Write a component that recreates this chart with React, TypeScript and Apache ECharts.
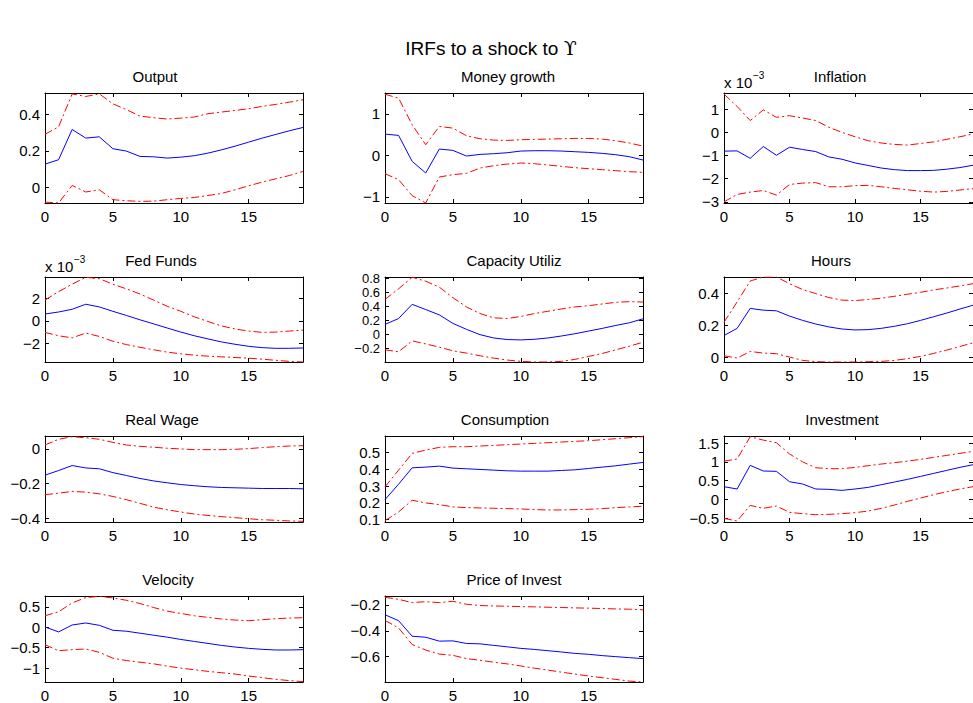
import React, { useEffect, useRef } from "react";
import * as echarts from "echarts";

// Horizon (periods after the shock) and tick positions shared by every panel
const PERIODS = [0, 1, 2, 3, 4, 5, 6, 7, 8, 9, 10, 11, 12, 13, 14, 15, 16, 17, 18, 19];
const X_TICKS = [0, 5, 10, 15];

// Output
const outputMid = [0.127, 0.151, 0.316, 0.269, 0.276, 0.211, 0.198, 0.169, 0.167, 0.16, 0.165, 0.173, 0.187, 0.205, 0.225, 0.247, 0.269, 0.289, 0.309, 0.327];
const outputUpper = [0.29, 0.33, 0.51, 0.496, 0.51, 0.456, 0.424, 0.389, 0.38, 0.373, 0.378, 0.384, 0.402, 0.411, 0.42, 0.429, 0.442, 0.453, 0.465, 0.478];
const outputLower = [-0.08, -0.085, 0.011, -0.025, -0.013, -0.067, -0.073, -0.076, -0.075, -0.067, -0.06, -0.055, -0.044, -0.033, -0.013, 0.009, 0.029, 0.047, 0.065, 0.087];

// Money growth
const moneyMid = [0.512, 0.48, -0.144, -0.424, 0.152, 0.12, -0.016, 0.024, 0.04, 0.064, 0.104, 0.112, 0.112, 0.104, 0.088, 0.072, 0.048, 0.016, -0.032, -0.112];
const moneyUpper = [1.47, 1.376, 0.736, 0.256, 0.696, 0.656, 0.472, 0.4, 0.368, 0.36, 0.376, 0.384, 0.392, 0.4, 0.408, 0.408, 0.392, 0.352, 0.296, 0.224];
const moneyLower = [-0.44, -0.584, -0.968, -1.144, -0.52, -0.464, -0.432, -0.304, -0.248, -0.208, -0.184, -0.2, -0.232, -0.264, -0.296, -0.32, -0.344, -0.368, -0.392, -0.408];

// Inflation (units of 10^-3)
const inflationMid = [-0.81, -0.8, -1.12, -0.61, -0.99, -0.64, -0.74, -0.83, -1.06, -1.16, -1.32, -1.43, -1.54, -1.61, -1.65, -1.65, -1.64, -1.59, -1.52, -1.42];
const inflationUpper = [1.65, 1.12, 0.51, 0.97, 0.65, 0.72, 0.62, 0.51, 0.22, 0.0, -0.19, -0.36, -0.46, -0.52, -0.55, -0.48, -0.41, -0.3, -0.19, -0.07];
const inflationLower = [-3.0, -2.68, -2.58, -2.51, -2.71, -2.25, -2.19, -2.17, -2.35, -2.35, -2.3, -2.29, -2.35, -2.42, -2.48, -2.54, -2.58, -2.55, -2.49, -2.43];

// Fed Funds (units of 10^-3)
const fedMid = [0.61, 0.79, 1.03, 1.48, 1.24, 0.85, 0.48, 0.09, -0.27, -0.64, -1.0, -1.33, -1.61, -1.88, -2.09, -2.27, -2.39, -2.45, -2.45, -2.42];
const fedUpper = [1.85, 2.6, 3.27, 3.88, 3.76, 3.27, 2.85, 2.39, 1.85, 1.3, 0.85, 0.36, -0.06, -0.45, -0.73, -0.91, -1.03, -1.0, -0.91, -0.82];
const fedLower = [-1.03, -1.33, -1.52, -1.09, -1.39, -1.82, -2.12, -2.36, -2.58, -2.79, -2.94, -3.06, -3.15, -3.21, -3.27, -3.33, -3.42, -3.52, -3.61, -3.67];

// Capacity utilization
const capacityMid = [0.142, 0.226, 0.429, 0.354, 0.278, 0.156, 0.071, -0.005, -0.052, -0.075, -0.08, -0.071, -0.052, -0.024, 0.009, 0.047, 0.085, 0.127, 0.165, 0.222];
const capacityUpper = [0.5, 0.651, 0.816, 0.76, 0.675, 0.524, 0.392, 0.297, 0.236, 0.226, 0.255, 0.297, 0.33, 0.363, 0.392, 0.41, 0.434, 0.458, 0.467, 0.462];
const capacityLower = [-0.222, -0.25, -0.094, -0.137, -0.184, -0.236, -0.269, -0.307, -0.34, -0.368, -0.387, -0.396, -0.396, -0.387, -0.358, -0.316, -0.274, -0.222, -0.17, -0.113];

// Hours
const hoursMid = [0.137, 0.182, 0.307, 0.296, 0.292, 0.259, 0.232, 0.209, 0.191, 0.178, 0.172, 0.174, 0.182, 0.195, 0.211, 0.232, 0.255, 0.278, 0.303, 0.327];
const hoursUpper = [0.22, 0.348, 0.479, 0.504, 0.504, 0.462, 0.425, 0.4, 0.375, 0.359, 0.356, 0.363, 0.371, 0.383, 0.396, 0.408, 0.423, 0.435, 0.448, 0.462];
const hoursLower = [0.01, -0.004, 0.037, 0.027, 0.023, 0.002, -0.019, -0.027, -0.029, -0.029, -0.029, -0.027, -0.025, -0.019, -0.008, 0.006, 0.025, 0.046, 0.068, 0.091];

// Real wage
const wageMid = [-0.152, -0.125, -0.096, -0.11, -0.115, -0.137, -0.154, -0.171, -0.185, -0.196, -0.206, -0.213, -0.219, -0.223, -0.225, -0.227, -0.229, -0.229, -0.229, -0.231];
const wageUpper = [0.023, 0.056, 0.071, 0.065, 0.056, 0.038, 0.023, 0.015, 0.01, 0.004, 0.0, -0.004, -0.004, -0.004, -0.002, 0.002, 0.008, 0.013, 0.017, 0.019];
const wageLower = [-0.265, -0.256, -0.246, -0.25, -0.26, -0.275, -0.294, -0.315, -0.337, -0.352, -0.365, -0.377, -0.385, -0.392, -0.398, -0.404, -0.41, -0.413, -0.417, -0.419];

// Consumption
const consMid = [0.22, 0.312, 0.41, 0.414, 0.42, 0.408, 0.404, 0.4, 0.396, 0.392, 0.39, 0.39, 0.39, 0.394, 0.398, 0.406, 0.414, 0.422, 0.432, 0.442];
const consUpper = [0.296, 0.396, 0.496, 0.516, 0.532, 0.536, 0.536, 0.54, 0.544, 0.548, 0.552, 0.556, 0.56, 0.564, 0.568, 0.572, 0.578, 0.584, 0.59, 0.596];
const consLower = [0.094, 0.146, 0.216, 0.2, 0.19, 0.176, 0.172, 0.17, 0.168, 0.166, 0.164, 0.16, 0.158, 0.158, 0.16, 0.162, 0.166, 0.172, 0.176, 0.18];

// Investment
const invMid = [0.338, 0.276, 0.907, 0.756, 0.747, 0.471, 0.409, 0.276, 0.267, 0.24, 0.276, 0.32, 0.391, 0.462, 0.533, 0.613, 0.693, 0.773, 0.853, 0.924];
const invUpper = [1.02, 1.076, 1.67, 1.58, 1.51, 1.21, 1.0, 0.844, 0.818, 0.818, 0.853, 0.898, 0.942, 0.978, 1.02, 1.067, 1.12, 1.173, 1.227, 1.28];
const invLower = [-0.507, -0.578, -0.16, -0.24, -0.178, -0.347, -0.382, -0.409, -0.4, -0.382, -0.356, -0.311, -0.24, -0.151, -0.053, 0.036, 0.124, 0.204, 0.276, 0.338];

// Velocity
const velMid = [0.008, -0.113, 0.056, 0.105, 0.048, -0.073, -0.097, -0.145, -0.194, -0.242, -0.298, -0.347, -0.395, -0.444, -0.484, -0.516, -0.54, -0.556, -0.556, -0.548];
const velUpper = [0.282, 0.379, 0.597, 0.726, 0.758, 0.718, 0.661, 0.581, 0.484, 0.395, 0.339, 0.282, 0.242, 0.202, 0.177, 0.161, 0.185, 0.21, 0.226, 0.234];
const velLower = [-0.427, -0.573, -0.548, -0.532, -0.613, -0.758, -0.815, -0.855, -0.895, -0.952, -1.0, -1.04, -1.08, -1.113, -1.145, -1.194, -1.234, -1.274, -1.306, -1.33];

// Price of investment
const pinvMid = [-0.276, -0.322, -0.442, -0.45, -0.48, -0.478, -0.498, -0.501, -0.513, -0.524, -0.536, -0.544, -0.554, -0.564, -0.575, -0.582, -0.592, -0.6, -0.608, -0.615];
const pinvUpper = [-0.141, -0.157, -0.182, -0.175, -0.182, -0.172, -0.195, -0.205, -0.208, -0.21, -0.213, -0.215, -0.218, -0.22, -0.223, -0.225, -0.228, -0.231, -0.233, -0.238];
const pinvLower = [-0.32, -0.378, -0.506, -0.549, -0.58, -0.59, -0.615, -0.628, -0.643, -0.656, -0.672, -0.689, -0.704, -0.72, -0.735, -0.75, -0.763, -0.776, -0.789, -0.796];

// Panel titles, y tick labels and axis ranges
const TITLES = ["Output", "Money growth", "Inflation", "Fed Funds", "Capacity Utiliz", "Hours", "Real Wage", "Consumption", "Investment", "Velocity", "Price of Invest"];
const Y_TICKS = [
  [0, 0.2, 0.4],
  [-1, 0, 1],
  [-3, -2, -1, 0, 1],
  [-2, 0, 2],
  [-0.2, 0, 0.2, 0.4, 0.6, 0.8],
  [0, 0.2, 0.4],
  [-0.4, -0.2, 0],
  [0.1, 0.2, 0.3, 0.4, 0.5],
  [-0.5, 0, 0.5, 1, 1.5],
  [-1, -0.5, 0, 0.5],
  [-0.6, -0.4, -0.2],
];
const Y_RANGES = [
  [-0.085, 0.515],
  [-1.145, 1.5],
  [-3.05, 1.7],
  [-3.67, 3.91],
  [-0.396, 0.82],
  [-0.029, 0.504],
  [-0.423, 0.075],
  [0.086, 0.6],
  [-0.604, 1.69],
  [-1.34, 0.766],
  [-0.796, -0.131],
];
const SCALED_PANELS = [2, 3]; // panels drawn in units of 10^-3
const DENSE_PANELS = [4]; // panels whose tick labels sit close together

const SERIES = [
  [outputMid, outputUpper, outputLower],
  [moneyMid, moneyUpper, moneyLower],
  [inflationMid, inflationUpper, inflationLower],
  [fedMid, fedUpper, fedLower],
  [capacityMid, capacityUpper, capacityLower],
  [hoursMid, hoursUpper, hoursLower],
  [wageMid, wageUpper, wageLower],
  [consMid, consUpper, consLower],
  [invMid, invUpper, invLower],
  [velMid, velUpper, velLower],
  [pinvMid, pinvUpper, pinvLower],
];

// Layout of the 4x3 subplot grid
const PANEL_LEFT = [45, 385, 724];
const PANEL_WIDTH = 258;
const ROW_TOP = [93, 277, 436, 596];
const ROW_HEIGHT = [110, 85, 86, 87];
const TITLE_X = [155, 508, 840, 161, 514, 831, 162, 505, 842, 168, 514];

const FONT = '"Liberation Sans", Arial, Helvetica, sans-serif';

const fmt = (v: number) => parseFloat(v.toFixed(3)).toString().replace("-", "\u2212");

function buildOption() {
  const grid: any[] = [];
  const xAxis: any[] = [];
  const yAxis: any[] = [];
  const series: any[] = [];
  const graphic: any[] = [];

  const axisLine = { show: true, onZero: false, lineStyle: { color: "#000", width: 1 } };
  const ticks = (vals: number[]) => ({
    show: true,
    inside: true,
    length: 4,
    customValues: vals,
    lineStyle: { color: "#000", width: 1 },
  });
  const labels = (vals: number[], margin: number, size = 15) => ({
    show: true,
    customValues: vals,
    formatter: (v: number) => fmt(v),
    margin,
    color: "#000",
    fontSize: size,
    lineHeight: size,
    fontFamily: FONT,
    hideOverlap: false,
    showMinLabel: true,
    showMaxLabel: true,
  });

  TITLES.forEach((title, i) => {
    const row = Math.floor(i / 3);
    const col = i % 3;
    const left = PANEL_LEFT[col];
    const top = ROW_TOP[row];
    grid.push({ left, top, width: PANEL_WIDTH, height: ROW_HEIGHT[row], show: false });

    xAxis.push({
      type: "value", gridIndex: i, position: "bottom", min: 0, max: 19,
      axisLine, axisTick: ticks(X_TICKS), axisLabel: labels(X_TICKS, 6), splitLine: { show: false },
    });
    xAxis.push({
      type: "value", gridIndex: i, position: "top", min: 0, max: 19,
      axisLine, axisTick: ticks(X_TICKS), axisLabel: { show: false }, splitLine: { show: false },
    });
    const [yMin, yMax] = Y_RANGES[i];
    const ySize = DENSE_PANELS.includes(i) ? 13 : 15;
    yAxis.push({
      type: "value", gridIndex: i, position: "left", min: yMin, max: yMax,
      axisLine, axisTick: ticks(Y_TICKS[i]), axisLabel: labels(Y_TICKS[i], 5, ySize), splitLine: { show: false },
    });
    yAxis.push({
      type: "value", gridIndex: i, position: "right", min: yMin, max: yMax,
      axisLine, axisTick: ticks(Y_TICKS[i]), axisLabel: { show: false }, splitLine: { show: false },
    });

    const [mid, upper, lower] = SERIES[i];
    const band = (vals: number[]) => ({
      type: "line", xAxisIndex: 2 * i, yAxisIndex: 2 * i, silent: true,
      symbol: "none", showSymbol: false, clip: true,
      data: PERIODS.map((t, k) => [t, vals[k]]),
      lineStyle: { color: "#ff0000", width: 1, type: [8, 3, 2, 3] },
    });
    series.push(band(upper));
    series.push(band(lower));
    series.push({
      type: "line", xAxisIndex: 2 * i, yAxisIndex: 2 * i, silent: true,
      symbol: "none", showSymbol: false, clip: true,
      data: PERIODS.map((t, k) => [t, mid[k]]),
      lineStyle: { color: "#0000ff", width: 1 },
    });

    graphic.push({
      type: "text", x: TITLE_X[i], y: top - 17,
      style: {
        text: title, fill: "#000", font: `15px ${FONT}`,
        align: "center", verticalAlign: "middle", textAlign: "center", textVerticalAlign: "middle",
      },
    });

    if (SCALED_PANELS.includes(i)) {
      graphic.push({
        type: "text", x: left, y: top - 11,
        style: {
          text: "x 10", fill: "#000", font: `15px ${FONT}`,
          align: "left", verticalAlign: "middle", textAlign: "left", textVerticalAlign: "middle",
        },
      });
      graphic.push({
        type: "text", x: left + 29, y: top - 18,
        style: {
          text: "\u22123", fill: "#000", font: `10px ${FONT}`,
          align: "left", verticalAlign: "middle", textAlign: "left", textVerticalAlign: "middle",
        },
      });
    }
  });

  graphic.push({
    type: "text", x: 491, y: 48,
    style: {
      text: "{a|IRFs to a shock to }{b|\u03D2}",
      fill: "#000",
      align: "center", verticalAlign: "middle", textAlign: "center", textVerticalAlign: "middle",
      rich: {
        a: { fontSize: 19, fontFamily: FONT, fill: "#000" },
        b: { fontSize: 19, fontFamily: '"DejaVu Serif", "DejaVu Sans", serif', fill: "#000" },
      },
    },
  });

  return {
    animation: false,
    backgroundColor: "#ffffff",
    grid,
    xAxis,
    yAxis,
    series,
    graphic,
  };
}

export default function App() {
  const ref = useRef<HTMLDivElement | null>(null);

  useEffect(() => {
    if (!ref.current) return;
    const chart = echarts.init(ref.current, undefined, { renderer: "svg" });
    chart.setOption(buildOption());
    return () => chart.dispose();
  }, []);

  return (
    <div
      ref={ref}
      style={{ position: "fixed", left: 0, top: 0, width: 973, height: 703, background: "#fff" }}
    />
  );
}
